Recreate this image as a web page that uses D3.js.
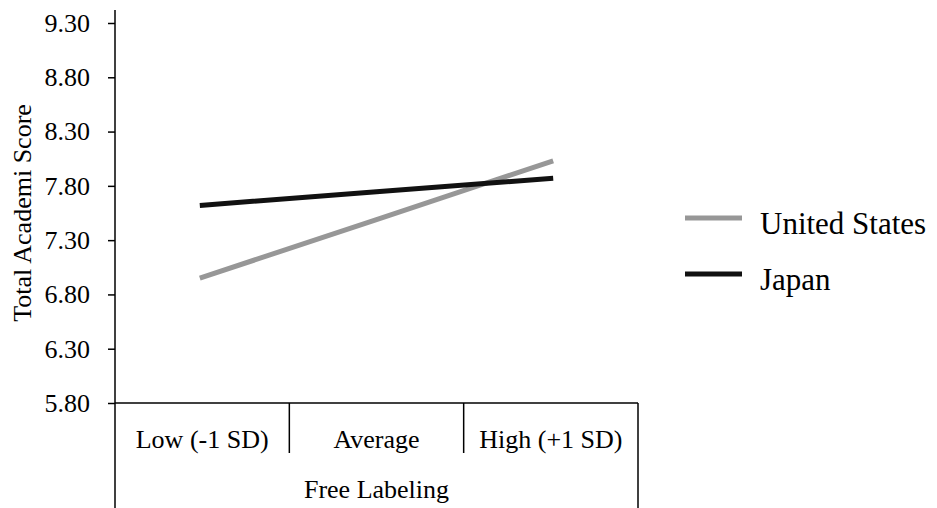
<!DOCTYPE html>
<html>
<head>
<meta charset="utf-8">
<script src="https://cdn.jsdelivr.net/npm/d3@7"></script>
<style>
  body { margin: 0; background: #fff; }
  svg { display: block; font-family: "Liberation Serif", "Times New Roman", serif; }
</style>
</head>
<body>
<div id="chart"></div>
<script>
// ---- data ----
const categories = ["Low (-1 SD)", "Average", "High (+1 SD)"];
const seriesNames = ["United States", "Japan"];
const usValues = [6.95, 7.49, 8.03];
const japanValues = [7.62, 7.745, 7.87];
const yTicks = [5.8, 6.3, 6.8, 7.3, 7.8, 8.3, 8.8, 9.3];

const COLOR = { "United States": "#979797", Japan: "#111111", axis: "#000" };
const FONT = "Liberation Serif, Times New Roman, serif";

const width = 937, height = 508;
const axisLeft = 115, axisRight = 638;
const plotTop = 23, plotBottom = 403;

const svg = d3.select("#chart").append("svg")
  .attr("width", width).attr("height", height);

// band scale for the category boxes, point scale for where the lines sit
const x = d3.scaleBand().domain(categories).range([axisLeft, axisRight]);
const xp = d3.scalePoint().domain(categories).range([axisLeft, axisRight]).padding(0.48);
const y = d3.scaleLinear().domain([5.8, 9.3]).range([plotBottom, plotTop]);

// ---- y axis ----
const yAxis = svg.append("g")
  .attr("transform", `translate(${axisLeft},0)`)
  .call(d3.axisLeft(y).tickValues(yTicks).tickFormat(d3.format(".2f")).tickSize(7).tickPadding(18));
yAxis.select(".domain").remove();
yAxis.selectAll(".tick line").attr("stroke", COLOR.axis).attr("stroke-width", 1.5);
yAxis.selectAll(".tick text")
  .attr("font-size", 26).attr("fill", "#000")
  .attr("font-family", FONT);
svg.append("line")
  .attr("x1", axisLeft).attr("x2", axisLeft)
  .attr("y1", 10).attr("y2", height)
  .attr("stroke", COLOR.axis).attr("stroke-width", 1.5);

svg.append("text")
  .attr("transform", `translate(31,${(plotTop + plotBottom) / 2}) rotate(-90)`)
  .attr("text-anchor", "middle")
  .attr("font-size", 26)
  .text("Total Academi Score");

// ---- x axis: horizontal line plus category dividers ----
svg.append("line")
  .attr("x1", axisLeft).attr("x2", axisRight)
  .attr("y1", plotBottom).attr("y2", plotBottom)
  .attr("stroke", COLOR.axis).attr("stroke-width", 1.5);

const dividers = categories.slice(1).map((c) => x(c));
svg.append("g").selectAll("line")
  .data(dividers)
  .join("line")
  .attr("x1", (d) => d).attr("x2", (d) => d)
  .attr("y1", plotBottom).attr("y2", 453)
  .attr("stroke", COLOR.axis).attr("stroke-width", 1.5);
svg.append("line")
  .attr("x1", axisRight).attr("x2", axisRight)
  .attr("y1", plotBottom).attr("y2", height)
  .attr("stroke", COLOR.axis).attr("stroke-width", 1.5);

svg.append("g").selectAll("text")
  .data(categories)
  .join("text")
  .attr("x", (c) => x(c) + x.bandwidth() / 2)
  .attr("y", 448)
  .attr("text-anchor", "middle")
  .attr("font-size", 26)
  .text((c) => c);

svg.append("text")
  .attr("x", (axisLeft + axisRight) / 2)
  .attr("y", 498)
  .attr("text-anchor", "middle")
  .attr("font-size", 26)
  .text("Free Labeling");

// ---- lines ----
const series = [
  { name: "United States", values: usValues },
  { name: "Japan", values: japanValues },
];
const line = d3.line()
  .x((d, i) => xp(categories[i]))
  .y((d) => y(d));

svg.append("g").selectAll("path")
  .data(series)
  .join("path")
  .attr("d", (s) => line(s.values))
  .attr("fill", "none")
  .attr("stroke", (s) => COLOR[s.name])
  .attr("stroke-width", 5);

// ---- legend ----
const legend = svg.append("g").selectAll("g")
  .data(seriesNames)
  .join("g")
  .attr("transform", (d, i) => `translate(685,${218 + i * 56})`);
legend.append("line")
  .attr("x1", 0).attr("x2", 57)
  .attr("stroke", (d) => COLOR[d])
  .attr("stroke-width", 5);
legend.append("text")
  .attr("x", 75).attr("y", 16)
  .attr("font-size", 31)
  .text((d) => d);
</script>
</body>
</html>
